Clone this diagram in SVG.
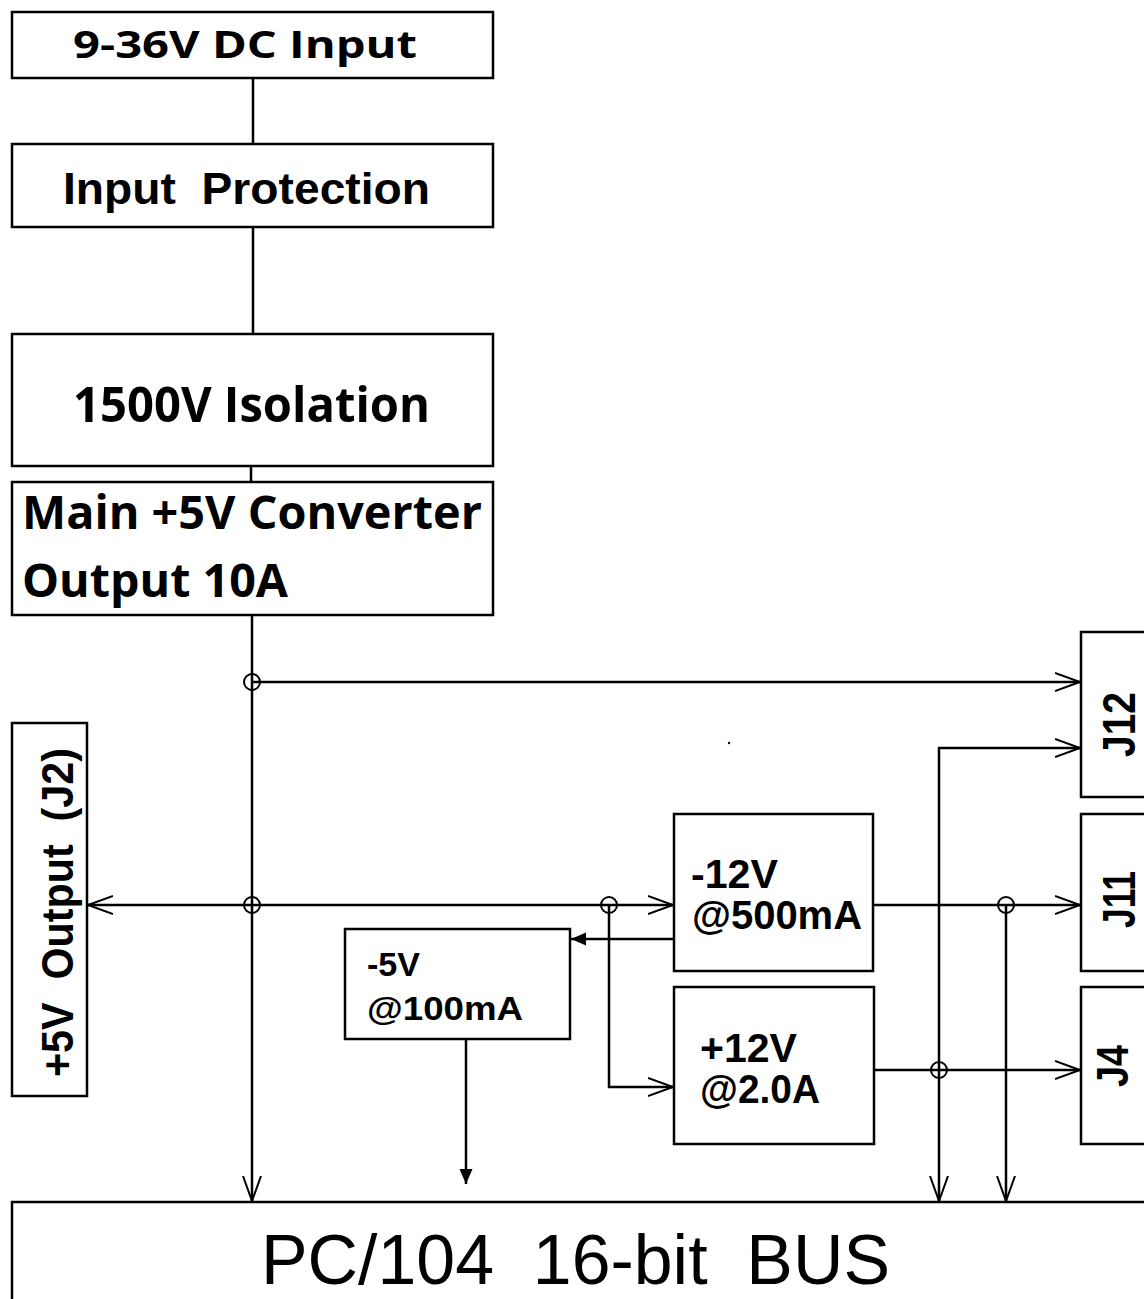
<svg xmlns="http://www.w3.org/2000/svg" width="1144" height="1299" viewBox="0 0 1144 1299">
<style>
.box{fill:#fff;stroke:#000;stroke-width:2.5}
.ln{fill:none;stroke:#000;stroke-width:2.5}
.jn{fill:none;stroke:#000;stroke-width:2}
.cal{font-family:"Open Sans",Lato,"Liberation Sans",sans-serif;font-weight:bold;fill:#000}
.ari{font-family:"Liberation Sans",Arial,sans-serif;font-weight:bold;fill:#000}
.reg{font-family:"Liberation Sans",Arial,sans-serif;font-weight:normal;fill:#000}
</style>
<defs>
<marker id="open" markerUnits="userSpaceOnUse" markerWidth="30" markerHeight="22" refX="25" refY="10" orient="auto">
<path d="M0,1 L25,10 L0,19" fill="none" stroke="#000" stroke-width="2"/>
</marker>
<marker id="fill" markerUnits="userSpaceOnUse" markerWidth="18" markerHeight="14" refX="15" refY="6.5" orient="auto">
<path d="M0,0 L15,6.5 L0,13 Z" fill="#000"/>
</marker>
</defs>
<g id="connectors">
<path class="ln" d="M253,78 V144"/>
<path class="ln" d="M253,227 V334"/>
<path class="ln" d="M251,466 V482"/>
<path class="ln" d="M252,615 V1201" marker-end="url(#open)"/>
<path class="ln" d="M252,682 H1080" marker-end="url(#open)"/>
<path class="ln" d="M252,905 H88" marker-end="url(#open)"/>
<path class="ln" d="M252,905 H673" marker-end="url(#open)"/>
<path class="ln" d="M874,905 H1080" marker-end="url(#open)"/>
<path class="ln" d="M674,939 H571" marker-end="url(#fill)"/>
<path class="ln" d="M466,1039 V1184" marker-end="url(#fill)"/>
<path class="ln" d="M609,905 V1087 H673" marker-end="url(#open)"/>
<path class="ln" d="M874,1070 H1080" marker-end="url(#open)"/>
<path class="ln" d="M939,1070 V748 H1080" marker-end="url(#open)"/>
<path class="ln" d="M939,1070 V1201" marker-end="url(#open)"/>
<path class="ln" d="M1006,905 V1201" marker-end="url(#open)"/>
<circle class="jn" cx="252" cy="682" r="8"/>
<circle class="jn" cx="252" cy="905" r="8"/>
<circle class="jn" cx="609" cy="905" r="8"/>
<circle class="jn" cx="1006" cy="905" r="8"/>
<circle class="jn" cx="939" cy="1070" r="8"/>
<circle cx="729" cy="743" r="1.2" fill="#000"/>
</g>
<g id="dc-input">
<rect class="box" x="12" y="12" width="481" height="66"/>
<text class="cal" x="73" y="58" font-size="37" textLength="344" lengthAdjust="spacingAndGlyphs">9-36V DC Input</text>
</g>
<g id="input-protection">
<rect class="box" x="12" y="144" width="481" height="83"/>
<text class="ari" x="63" y="204" font-size="45" textLength="367" lengthAdjust="spacingAndGlyphs" xml:space="preserve">Input  Protection</text>
</g>
<g id="isolation">
<rect class="box" x="12" y="334" width="481" height="132"/>
<text class="cal" x="73" y="422" font-size="49" textLength="357" lengthAdjust="spacingAndGlyphs">1500V Isolation</text>
</g>
<g id="main-converter">
<rect class="box" x="12" y="482" width="481" height="133"/>
<text class="cal" x="22" y="529" font-size="47" textLength="460" lengthAdjust="spacingAndGlyphs">Main +5V Converter</text>
<text class="cal" x="22" y="597" font-size="47" textLength="266" lengthAdjust="spacingAndGlyphs">Output 10A</text>
</g>
<g id="j2-output">
<rect class="box" x="12" y="723" width="75" height="373"/>
<text class="ari" transform="translate(73,912.5) rotate(-90)" text-anchor="middle" font-size="44" textLength="329" lengthAdjust="spacingAndGlyphs" xml:space="preserve">+5V  Output  (J2)</text>
</g>
<g id="minus12v">
<rect class="box" x="674" y="814" width="199" height="157"/>
<text class="ari" x="691" y="888" font-size="40" textLength="87" lengthAdjust="spacingAndGlyphs">-12V</text>
<text class="ari" x="692" y="929" font-size="40" textLength="170" lengthAdjust="spacingAndGlyphs">@500mA</text>
</g>
<g id="minus5v">
<rect class="box" x="345" y="929" width="225" height="110"/>
<text class="ari" x="367" y="976" font-size="33" textLength="53" lengthAdjust="spacingAndGlyphs">-5V</text>
<text class="ari" x="367" y="1020" font-size="33" textLength="156" lengthAdjust="spacingAndGlyphs">@100mA</text>
</g>
<g id="plus12v">
<rect class="box" x="674" y="987" width="200" height="157"/>
<text class="ari" x="700" y="1062" font-size="40" textLength="97" lengthAdjust="spacingAndGlyphs">+12V</text>
<text class="ari" x="700" y="1103" font-size="40" textLength="120" lengthAdjust="spacingAndGlyphs">@2.0A</text>
</g>
<g id="j12">
<rect class="box" x="1081" y="632" width="80" height="165"/>
<text class="ari" transform="translate(1135,724.5) rotate(-90)" text-anchor="middle" font-size="46" textLength="65" lengthAdjust="spacingAndGlyphs">J12</text>
</g>
<g id="j11">
<rect class="box" x="1081" y="814" width="80" height="157"/>
<text class="ari" transform="translate(1135,899.5) rotate(-90)" text-anchor="middle" font-size="46" textLength="57" lengthAdjust="spacingAndGlyphs">J11</text>
</g>
<g id="j4">
<rect class="box" x="1081" y="987" width="80" height="157"/>
<text class="ari" transform="translate(1128,1066) rotate(-90)" text-anchor="middle" font-size="45" textLength="42" lengthAdjust="spacingAndGlyphs">J4</text>
</g>
<g id="pc104-bus">
<rect class="box" x="12" y="1202" width="1150" height="120"/>
<text class="reg" x="261" y="1284" font-size="71" textLength="629" lengthAdjust="spacingAndGlyphs" xml:space="preserve">PC/104  16-bit  BUS</text>
</g>
</svg>
